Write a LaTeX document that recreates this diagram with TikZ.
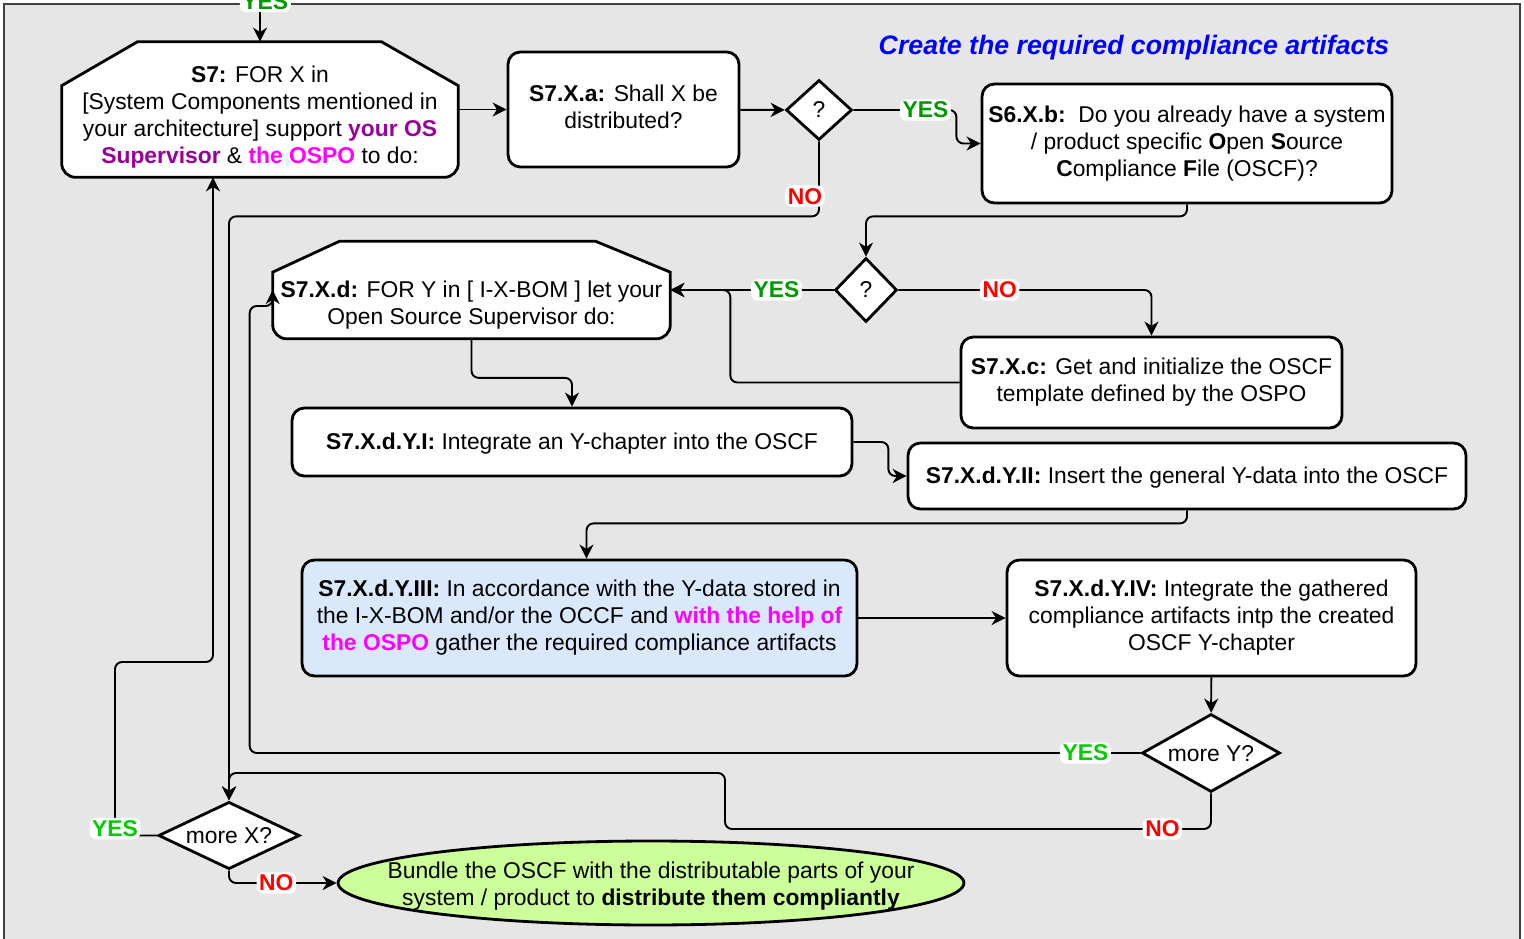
\documentclass[tikz,border=0pt]{standalone}
\usepackage{fontspec}
\setmainfont{Liberation Sans}
\usetikzlibrary{arrows.meta,shapes.geometric,calc}

\definecolor{canvas}{HTML}{E6E6E6}
\definecolor{yesdark}{HTML}{009900}
\definecolor{yeslight}{HTML}{00CC00}
\definecolor{ospopink}{HTML}{FF00FF}
\definecolor{osspurple}{HTML}{990099}
\definecolor{gatherblue}{HTML}{DAE8FC}
\definecolor{bundlegreen}{HTML}{CCFF99}

\newcommand{\linestrut}{\rule[-2.9pt]{0pt}{14.9pt}}

\tikzset{
    struts/.style={execute at begin node=\linestrut, execute at end node=\linestrut},
    stepbox/.style={draw, line width=1.6pt, fill=white, rounded corners=7pt,
        align=center, inner sep=2pt, struts},
    loopframe/.style={inner sep=0pt},
    loopline/.style={draw, line width=1.6pt, fill=white},
    query/.style={diamond, draw, line width=1.6pt, fill=white, inner sep=0pt, struts},
    flow/.style={->, line width=1.1pt, rounded corners=4pt},
    yeslabel/.style={fill=white, inner sep=1.5pt, text=yesdark,
        font=\fontsize{13pt}{15pt}\selectfont\bfseries},
    yeslabelb/.style={yeslabel, text=yeslight},
    nolabel/.style={yeslabel, text=red},
}

\begin{document}
\begin{tikzpicture}[x=0.02cm, y=-0.02cm,
        font=\fontsize{13pt}{15.4pt}\selectfont,
        >={Stealth[length=8pt, width=8pt, inset=2.5pt]}]
    \useasboundingbox (0,0) rectangle (1524,939);
    \fill[canvas] (4,4) rectangle (1520,950);
    \draw[black!75, line width=0.8pt] (4,950) -- (4,4) -- (1520,4) -- (1520,950);

    % heading
    \node[text=blue, font=\fontsize{15.2pt}{18pt}\selectfont\bfseries\itshape] (heading)
        at (1134,48) {Create the required compliance artifacts};

    % loop limits
    \node[loopframe, minimum width=7.92cm, minimum height=2.7cm] (s7) at (260,109.5) {};
    \path[loopline] ($(s7.north west)+(76,0)$) -- ($(s7.north east)+(-77,0)$)
        -- ($(s7.north east)+(0,44)$) [rounded corners=8pt] -- (s7.south east)
        -- (s7.south west) [sharp corners] -- ($(s7.north west)+(0,44)$) -- cycle;
    \node[align=center, struts] (s7txt) at (260,117.5)
        {\textbf{S7:} FOR X in\\ {[}System Components mentioned in\\
         your architecture] support \textcolor{osspurple}{\textbf{your OS}}\\
         \textcolor{osspurple}{\textbf{Supervisor}} \& \textcolor{ospopink}{\textbf{the OSPO}} to do:};

    \node[loopframe, minimum width=7.94cm, minimum height=1.94cm] (s7xd) at (471.5,290) {};
    \path[loopline] ($(s7xd.north west)+(67,0)$) -- ($(s7xd.north east)+(-75,0)$)
        -- ($(s7xd.north east)+(0,31)$) [rounded corners=8pt] -- (s7xd.south east)
        -- (s7xd.south west) [sharp corners] -- ($(s7xd.north west)+(0,31)$) -- cycle;
    \node[align=center, struts] (s7xdtxt) at (471.5,305.5)
        {\textbf{S7.X.d:} FOR Y in [ I-X-BOM ] let your\\ Open Source Supervisor do:};

    % steps
    \begin{scope}[every node/.style={stepbox}]
        \node[minimum width=4.62cm, minimum height=2.3cm] (s7xa) at (623.5,109.5)
            {\textbf{S7.X.a:} Shall X be\\ distributed?};
        \node[minimum width=8.2cm, minimum height=2.38cm] (s6xb) at (1187,143.5)
            {\textbf{S6.X.b:}\ \ Do you already have a system\\
             / product specific \textbf{O}pen \textbf{S}ource\\
             \textbf{C}ompliance \textbf{F}ile (OSCF)?};
        \node[minimum width=7.62cm, minimum height=1.82cm] (s7xc) at (1151.5,382.5)
            {\textbf{S7.X.c:} Get and initialize the OSCF\\ template defined by the OSPO};
        \node[minimum width=11.2cm, minimum height=1.36cm] (yI) at (572,442)
            {\textbf{S7.X.d.Y.I:} Integrate an Y-chapter into the OSCF};
        \node[minimum width=11.16cm, minimum height=1.32cm] (yII) at (1187,476)
            {\textbf{S7.X.d.Y.II:} Insert the general Y-data into the OSCF};
        \node[minimum width=11.1cm, minimum height=2.32cm, fill=gatherblue] (yIII) at (579.5,618)
            {\textbf{S7.X.d.Y.III:} In accordance with the Y-data stored in\\
             the I-X-BOM and/or the OCCF and \textcolor{ospopink}{\textbf{with the help of}}\\
             \textcolor{ospopink}{\textbf{the OSPO}} gather the required compliance artifacts};
        \node[minimum width=8.18cm, minimum height=2.32cm] (yIV) at (1211.5,618)
            {\textbf{S7.X.d.Y.IV:} Integrate the gathered\\
             compliance artifacts intp the created\\ OSCF Y-chapter};
    \end{scope}

    % decisions
    \begin{scope}[every node/.style={query}]
        \node[minimum width=1.32cm, minimum height=1.2cm] (q1) at (819,110) {?};
        \node[minimum width=1.24cm, minimum height=1.28cm] (q2) at (866,290) {?};
        \node[minimum width=2.76cm, minimum height=1.56cm, aspect=1.8] (moreY) at (1211,753) {more Y?};
        \node[minimum width=2.76cm, minimum height=1.32cm, aspect=2.1] (moreX) at (229,835.5) {more X?};
    \end{scope}

    % end
    \node[ellipse, draw, line width=1.6pt, fill=bundlegreen, minimum width=12.52cm,
        minimum height=1.68cm, inner sep=0pt] (bundle) at (651,883) {};
    \node[align=center, struts] (bundletxt) at (651,886)
        {Bundle the OSCF with the distributable parts of your\\
         system / product to \textbf{distribute them compliantly}};

    % connectors
    \coordinate (above) at (260,-30);
    \coordinate (yback) at ($(s7xd.west)+(-23,16)$);
    \coordinate (nobend) at (725,829);
    \coordinate (noover) at (725,773);
    \coordinate (xleft) at (115,662);

    \draw[flow] (above) -- node[yeslabel, pos=0.44, xshift=3pt] {YES} (s7.north);
    \draw[flow] (s7) -- (s7xa);
    \draw[flow] (s7xa) -- (q1);
    \draw[flow] (q1.east) -- node[yeslabel, pos=0.7] {YES} ++(103,0) |- (s6xb.west);
    \draw[flow] (q1.south) -- node[nolabel, pos=0.73, xshift=-8pt] {NO} ++(0,75) -| (moreX.north);
    \draw[flow] (s6xb.south) -- ++(0,12) -| (q2.north);
    \draw[flow] (q2.west) -- node[yeslabel, pos=0.35] {YES} (s7xd.east);
    \draw[flow] (q2.east) -| node[nolabel, pos=0.2] {NO} (s7xc.north);
    \draw[flow] (s7xc.west) -| ($(s7xd.east)+(60,0)$) -- (s7xd.east);
    \draw[flow] (s7xd.south) -- ++(0,39) -| (yI.north);
    \draw[flow] (yI.east) -- ++(35,0) |- (yII.west);
    \draw[flow] (yII.south) -- ++(0,13) -| ($(yIII.north)+(7,0)$);
    \draw[flow] (yIII) -- (yIV);
    \draw[flow] (yIV) -- (moreY);
    \draw[flow] (moreY.west) -- node[yeslabelb, pos=0.062] {YES} (yback |- moreY.west)
        -- (yback) -| (s7xd.west);
    \draw[flow] (moreY.south) |- node[nolabel, pos=0.55] {NO} (nobend) -- (noover) -| (moreX.north);
    \draw[flow] (moreX.west) -| node[yeslabelb, pos=0.52] {YES} (xleft) -| ($(s7.south)+(-47,0)$);
    \draw[flow] (moreX.south) |- node[nolabel, pos=0.72] {NO} (bundle.west);
\end{tikzpicture}
\end{document}
